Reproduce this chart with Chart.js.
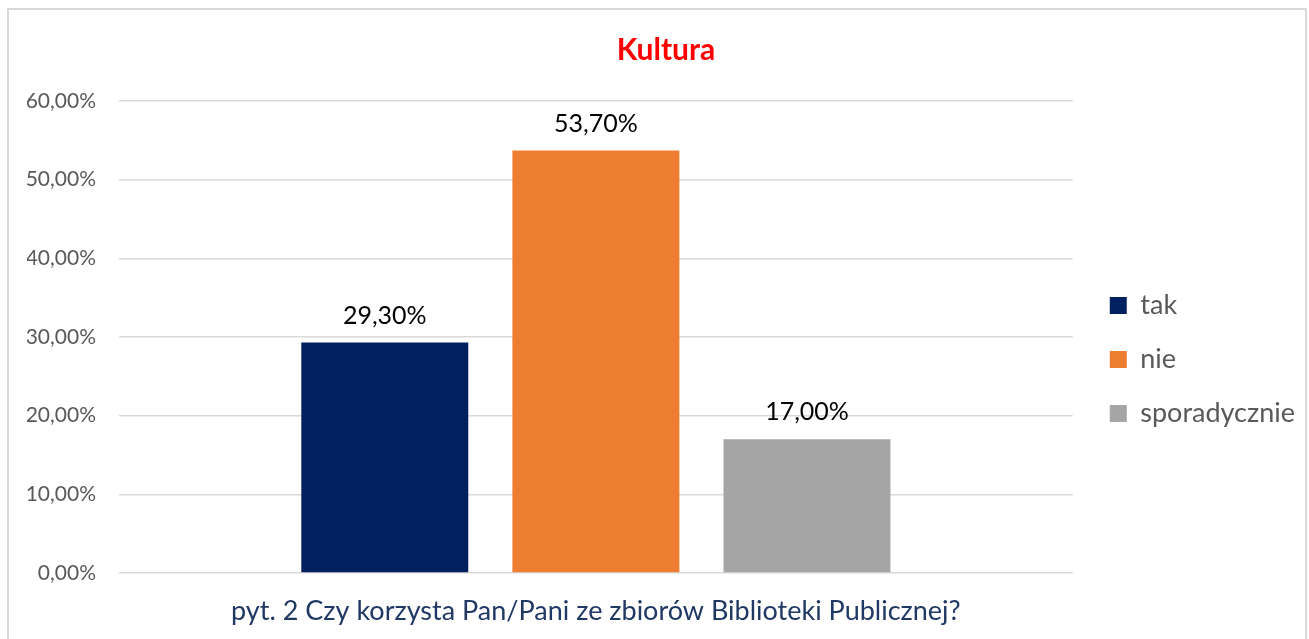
<!DOCTYPE html>
<html>
<head>
<meta charset="utf-8">
<script src="https://cdn.jsdelivr.net/npm/chart.js@4/dist/chart.umd.min.js"></script>
<style>
  html, body { margin: 0; padding: 0; background: #fff; }
  #box {
    position: absolute; left: 7px; top: 8px;
    width: 1296px; height: 644px;
    border: 2px solid #d9d9d9; background: #fff;
  }
  #box canvas { display: block; }
</style>
</head>
<body>
<div id="box"><canvas id="c" width="1296" height="644"></canvas></div>
<script>
// dane z wykresu
const categories = ['pyt. 2 Czy korzysta Pan/Pani ze zbiorów Biblioteki Publicznej?'];
const seriesNames = ['tak', 'nie', 'sporadycznie'];
const takValues = [29.3];
const nieValues = [53.7];
const sporadycznieValues = [17.0];
const yTicks = [0, 10, 20, 30, 40, 50, 60];

const colors = ['#002060', '#ED7D31', '#A5A5A5'];
const FONT = 'Lato';

const pct = v => Number(v).toFixed(2).replace('.', ',') + '%';

// etykiety nad słupkami
const barLabels = {
  id: 'barLabels',
  afterDatasetsDraw(chart) {
    const ctx = chart.ctx;
    ctx.save();
    ctx.font = `25px ${FONT}`;
    ctx.fillStyle = '#000';
    ctx.textAlign = 'center';
    ctx.textBaseline = 'alphabetic';
    chart.data.datasets.forEach((ds, i) => {
      chart.getDatasetMeta(i).data.forEach((bar, j) => {
        ctx.fillText(pct(ds.data[j]), bar.x, bar.y - 19);
      });
    });
    ctx.restore();
  }
};

// szerokość legendy, żeby obszar wykresu kończył się w tym samym miejscu
const mctx = document.createElement('canvas').getContext('2d');
const legendFont = 27;
mctx.font = `${legendFont}px ${FONT}`;
const legendPad = 27;
const legendW = legendPad + 17 + legendFont / 2 + Math.max(...seriesNames.map(s => mctx.measureText(s).width)) + 10;
const rightPad = Math.max(0, 1296 - 1076 - legendW);
const leftPad = 18;

new Chart(document.getElementById('c'), {
  type: 'bar',
  data: {
    labels: categories,
    datasets: [takValues, nieValues, sporadycznieValues].map((d, i) => ({
      label: seriesNames[i],
      data: d,
      backgroundColor: colors[i],
      categoryPercentage: 0.664,
      barPercentage: 0.791,
    })),
  },
  options: {
    responsive: false,
    animation: false,
    events: [],
    layout: { padding: { left: leftPad, right: rightPad, top: 0, bottom: 0 } },
    plugins: {
      title: {
        display: true,
        text: 'Kultura',
        color: '#FF0000',
        font: { family: FONT, size: 30, weight: 'bold', lineHeight: 1.2 },
        padding: { top: 22, bottom: 33 },
      },
      legend: {
        position: 'right',
        maxWidth: 400,
        title: { display: true, text: ' ', font: { size: 10, lineHeight: 1.2 }, padding: { top: 43, bottom: 0 } },
        labels: {
          boxWidth: 17,
          boxHeight: 17,
          padding: legendPad,
          color: '#595959',
          font: { family: FONT, size: legendFont },
        },
      },
      tooltip: { enabled: false },
    },
    scales: {
      x: {
        grid: { display: false, drawTicks: false },
        border: { display: false },
        ticks: { color: '#203864', font: { family: FONT, size: 27 }, padding: 22, maxRotation: 0 },
        afterFit(s) { s.height = 81; },
      },
      y: {
        min: 0, max: 60,
        afterBuildTicks(s) { s.ticks = yTicks.map(v => ({ value: v })); },
        grid: { color: '#d9d9d9', lineWidth: 1.5, drawTicks: false },
        border: { display: false },
        ticks: { color: '#595959', font: { family: FONT, size: 21 }, padding: 23, callback: v => pct(v) },
        afterFit(s) { s.width = 110 - leftPad; },
      },
      yPad: {
        position: 'right',
        grid: { display: false, drawTicks: false },
        border: { display: false },
        ticks: { display: false },
        afterFit(s) { s.width = 10; },
      },
    },
  },
  plugins: [barLabels],
});
</script>
</body>
</html>
